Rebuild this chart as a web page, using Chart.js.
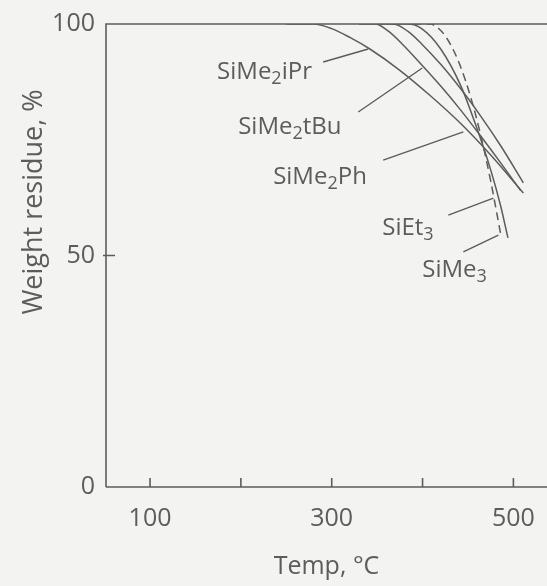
<!DOCTYPE html>
<html>
<head>
<meta charset="utf-8">
<script src="https://cdn.jsdelivr.net/npm/chart.js@4/dist/chart.umd.min.js"></script>
<style>
  html, body { margin: 0; padding: 0; background: #f3f3f1; }
  #wrap { width: 547px; height: 586px; }
</style>
</head>
<body>
<div id="wrap"><canvas id="c" width="547" height="586"></canvas></div>
<script>
// ─── Data ───────────────────────────────────────────────────────────────────
const xTicks = [100, 200, 300, 400, 500];
const xTickLabels = ['100', '', '300', '', '500'];
const yTicks = [0, 50, 100];

const tempIPr = [250, 280, 300, 320, 342, 375, 408, 442, 475, 511];
const wIPr    = [100, 100, 99, 97.1, 94.6, 90, 84.6, 78.5, 71.7, 63.5];

const tempTBu = [330, 348, 362, 377, 398, 420, 442, 464, 486, 508];
const wTBu    = [100, 100, 98.5, 95.8, 91.4, 86.6, 81.4, 75.8, 70, 64];

const tempPh  = [350, 368, 384, 399, 420, 442, 464, 486, 511];
const wPh     = [100, 100, 98.4, 95.7, 91.3, 86, 80.1, 73.7, 65.7];

const tempEt3 = [365, 384, 399, 420, 442, 458, 475, 486, 494];
const wEt3    = [100, 100, 99, 94.6, 86.7, 78.5, 68.5, 60.7, 53.8];

const tempMe3 = [390, 408, 420, 431, 442, 453, 464, 475, 486];
const wMe3    = [100, 100, 98.6, 95.5, 90.7, 84.2, 76, 66.1, 54.6];

// labels: text parts [text, isSubscript], anchor (T, W), leader start / end
const labelParts = [
  [['SiMe', 0], ['2', 1], ['iPr', 0]],
  [['SiMe', 0], ['2', 1], ['tBu', 0]],
  [['SiMe', 0], ['2', 1], ['Ph', 0]],
  [['SiEt', 0], ['3', 1]],
  [['SiMe', 0], ['3', 1]],
];
const labelAt    = [[173.8, 89.6], [197, 77.8], [235.5, 67], [355.6, 56], [399.7, 46.9]];
const leaderFrom = [[290.6, 91.8], [329.2, 81], [356.7, 70.6], [428.4, 58.7], [444.9, 50.8]];
const leaderTo   = [[340.2, 94.6], [399.7, 90.5], [444.9, 76.7], [478, 62.4], [483.5, 54.4]];

const INK = '#5c5c5c';
const FONT = '"Open Sans", "DejaVu Sans", sans-serif';
const FW = '400';

const pts = (xs, ys) => xs.map((x, i) => ({ x, y: ys[i] }));

function series(xs, ys, dash) {
  return {
    data: pts(xs, ys),
    borderColor: INK,
    borderWidth: 1.5,
    borderDash: dash || [],
    pointRadius: 0,
    fill: false,
    cubicInterpolationMode: 'monotone',
  };
}

// ─── Plugin: frame, inward ticks, y title, curve labels ─────────────────────
const decor = {
  id: 'decor',
  afterDraw(chart) {
    const { ctx, chartArea: a, scales: { x, y } } = chart;
    ctx.save();
    ctx.strokeStyle = INK;
    ctx.lineWidth = 1.6;
    ctx.beginPath();
    ctx.moveTo(a.left, a.bottom); ctx.lineTo(a.right, a.bottom);
    ctx.moveTo(a.left, a.bottom); ctx.lineTo(a.left, a.top);
    ctx.lineTo(a.right, a.top);
    xTicks.forEach(v => {
      const px = x.getPixelForValue(v);
      ctx.moveTo(px, a.bottom); ctx.lineTo(px, a.bottom - 9);
    });
    const py = y.getPixelForValue(50);
    ctx.moveTo(a.left - 3, py); ctx.lineTo(a.left + 9, py);
    ctx.stroke();

    // y title
    ctx.fillStyle = INK;
    ctx.font = `${FW} 27px ${FONT}`;
    ctx.textAlign = 'center';
    ctx.textBaseline = 'middle';
    ctx.translate(34, 202);
    ctx.rotate(-Math.PI / 2);
    ctx.fillText('Weight residue, %', 0, 0);
    ctx.setTransform(1, 0, 0, 1, 0, 0);

    // leaders
    ctx.lineWidth = 1.4;
    ctx.beginPath();
    leaderFrom.forEach((f, i) => {
      const t = leaderTo[i];
      ctx.moveTo(x.getPixelForValue(f[0]), y.getPixelForValue(f[1]));
      ctx.lineTo(x.getPixelForValue(t[0]), y.getPixelForValue(t[1]));
    });
    ctx.stroke();

    // labels with subscripts
    ctx.textAlign = 'left';
    labelParts.forEach((parts, i) => {
      let px = x.getPixelForValue(labelAt[i][0]);
      const base = y.getPixelForValue(labelAt[i][1]);
      parts.forEach(([txt, sub]) => {
        ctx.font = sub ? `${FW} 18px ${FONT}` : `${FW} 24px ${FONT}`;
        ctx.fillText(txt, px, sub ? base + 7 : base);
        px += ctx.measureText(txt).width;
      });
    });
    ctx.restore();
  },
};

new Chart(document.getElementById('c'), {
  type: 'line',
  data: {
    datasets: [
      series(tempIPr, wIPr),
      series(tempTBu, wTBu),
      series(tempPh, wPh),
      series(tempEt3, wEt3),
      series(tempMe3, wMe3, [8, 5]),
    ],
  },
  options: {
    responsive: false,
    animation: false,
    layout: { padding: { top: 24, right: 0, left: 0, bottom: 0 } },
    plugins: { legend: { display: false }, tooltip: { enabled: false } },
    scales: {
      x: {
        type: 'linear',
        min: 51.5,
        max: 537,
        afterBuildTicks: s => { s.ticks = xTicks.map(v => ({ value: v })); },
        afterFit: s => { s.height = 99; },
        grid: { display: false },
        border: { display: false },
        ticks: {
          color: INK,
          font: { family: FONT, size: 25, weight: FW },
          padding: 9,
          maxRotation: 0,
          callback: (v, i) => xTickLabels[i],
        },
        title: {
          display: true,
          text: 'Temp, °C',
          color: INK,
          font: { family: FONT, size: 25, weight: FW },
          padding: { top: 0 },
        },
      },
      y: {
        min: 0,
        max: 100,
        afterBuildTicks: s => { s.ticks = yTicks.map(v => ({ value: v })); },
        afterFit: s => { s.width = 106; },
        grid: { display: false },
        border: { display: false },
        ticks: {
          color: INK,
          font: { family: FONT, size: 25, weight: FW },
          padding: 3,
        },
      },
    },
  },
  plugins: [decor],
});
</script>
</body>
</html>
